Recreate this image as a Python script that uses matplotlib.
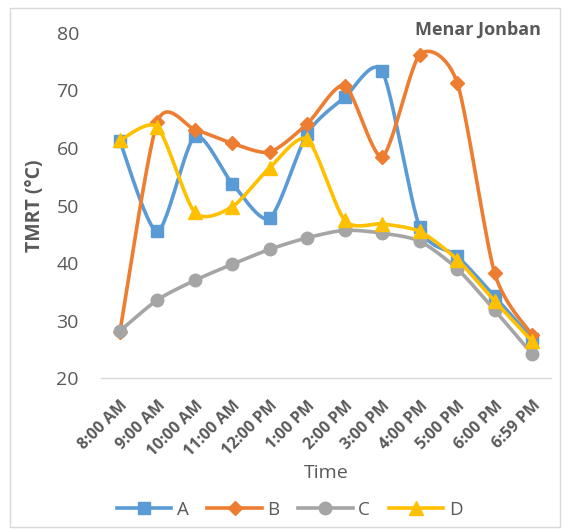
import numpy as np
import matplotlib.pyplot as plt
from matplotlib.patches import Rectangle
from matplotlib.lines import Line2D

times = ["8:00 AM", "9:00 AM", "10:00 AM", "11:00 AM", "12:00 PM", "1:00 PM",
         "2:00 PM", "3:00 PM", "4:00 PM", "5:00 PM", "6:00 PM", "6:59 PM"]
a_vals = [61.2, 45.5, 62.0, 53.8, 47.8, 62.5, 68.8, 73.3, 46.2, 41.2, 34.2, 26.8]
b_vals = [28.0, 64.5, 63.2, 60.8, 59.3, 64.2, 70.8, 58.5, 76.2, 71.3, 38.2, 27.5]
c_vals = [28.2, 33.6, 37.0, 39.8, 42.4, 44.4, 45.7, 45.2, 43.8, 39.0, 31.8, 24.2]
d_vals = [61.3, 63.6, 48.8, 49.8, 56.6, 61.5, 47.4, 46.8, 45.5, 40.6, 33.4, 26.4]

series = [("A", a_vals, "#5B9BD5", "s", 9),
          ("B", b_vals, "#ED7D31", "D", 7),
          ("C", c_vals, "#A5A5A5", "o", 9),
          ("D", d_vals, "#FFC000", "^", 10)]

plt.rcParams['font.family'] = ['Open Sans', 'DejaVu Sans']
grey = "#595959"


def smooth(x, y, n=30, k=8.0):
    # Excel-like smoothed line: Catmull-Rom style bezier segments
    x = np.asarray(x, float)
    y = np.asarray(y, float)
    px = np.concatenate([[x[0]], x, [x[-1]]])
    py = np.concatenate([[y[0]], y, [y[-1]]])
    xs, ys = [], []
    t = np.linspace(0, 1, n)
    for i in range(1, len(px) - 2):
        p0 = np.array([px[i], py[i]])
        p3 = np.array([px[i + 1], py[i + 1]])
        c1 = p0 + (np.array([px[i + 1], py[i + 1]]) - np.array([px[i - 1], py[i - 1]])) / k
        c2 = p3 - (np.array([px[i + 2], py[i + 2]]) - np.array([px[i], py[i]])) / k
        b = ((1 - t) ** 3)[:, None] * p0 + (3 * (1 - t) ** 2 * t)[:, None] * c1 \
            + (3 * (1 - t) * t ** 2)[:, None] * c2 + (t ** 3)[:, None] * p3
        xs.extend(b[:, 0])
        ys.extend(b[:, 1])
    return np.array(xs), np.array(ys)


fig = plt.figure(figsize=(5.68, 5.29), dpi=100)
fig.patches.append(Rectangle((0.018, 0.004), 0.968, 0.98, transform=fig.transFigure,
                             fill=False, edgecolor="#d9d9d9", linewidth=1))
ax = fig.add_axes([0.178, 0.285, 0.792, 0.653])

x = np.arange(len(times))
handles = []
for name, vals, col, mk, ms in series:
    sx, sy = smooth(x, vals)
    ax.plot(sx, sy, color=col, linewidth=2.6, solid_capstyle="round")
    ax.plot(x, vals, linestyle="none", marker=mk, markersize=ms, color=col)
    handles.append(Line2D([0], [0], color=col, linewidth=2.6, marker=mk, markersize=ms))

ax.set_xlim(-0.5, len(times) - 0.5)
ax.set_ylim(20, 80)
ax.set_yticks([20, 30, 40, 50, 60, 70, 80])
ax.set_xticks(x)
ax.set_xticklabels(times, rotation=45, ha="right", rotation_mode="anchor",
                   fontsize=11.5, fontweight="bold", color=grey)
ax.tick_params(axis="y", labelsize=14, colors=grey, length=0, pad=16)
ax.tick_params(axis="x", length=0, pad=14)
for s in ["top", "right", "left"]:
    ax.spines[s].set_visible(False)
ax.spines["bottom"].set_color("#d9d9d9")
ax.spines["bottom"].set_linewidth(1)

ax.set_xlabel("Time", fontsize=14, color=grey, labelpad=3)
ax.set_ylabel("TMRT (°C)", fontsize=14, fontweight="bold", color=grey, labelpad=8)
fig.text(0.952, 0.944, "Menar Jonban", ha="right", va="center", fontsize=13,
         fontweight="bold", color=grey)

fig.legend(handles, ["A", "B", "C", "D"], loc="center", bbox_to_anchor=(0.51, 0.036),
           ncol=4, frameon=False, fontsize=13.5, handlelength=2.9, columnspacing=1.0,
           handletextpad=0.3, labelcolor=grey)

fig.savefig("out.png", dpi=100)
